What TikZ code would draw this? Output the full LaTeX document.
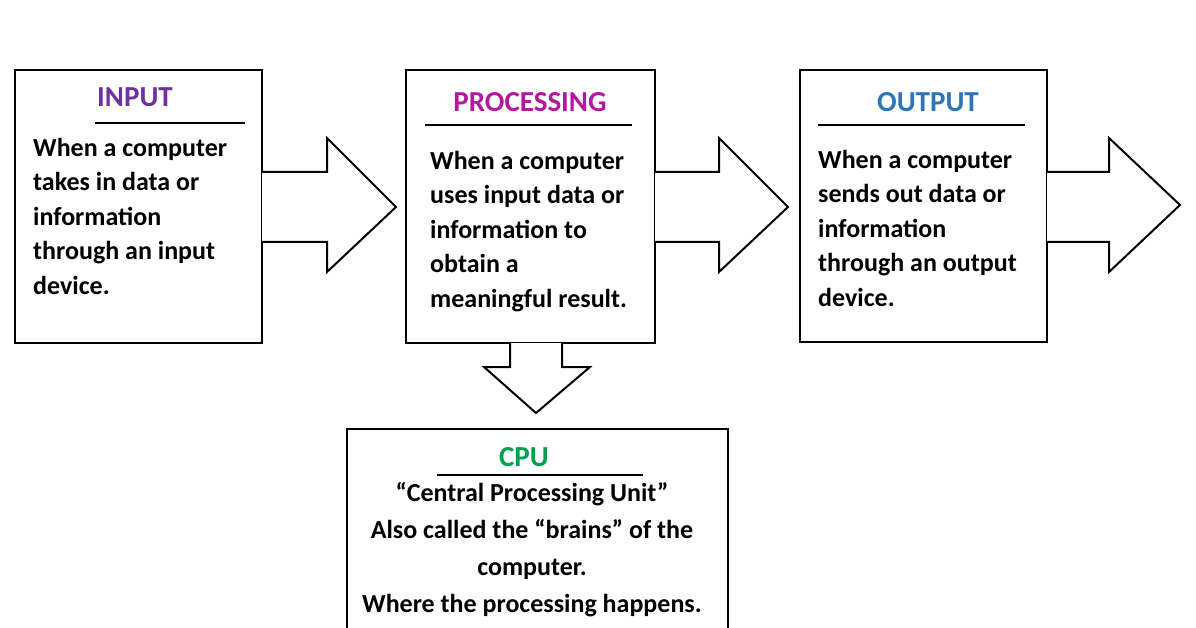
\documentclass[tikz,border=0pt]{standalone}
\usepackage{fontspec}
\setmainfont{Carlito}
\begin{document}
\begin{tikzpicture}[x=1pt,y=-1pt,
  box/.style={draw=black,line width=2.2pt},
  arr/.style={draw=black,line width=2pt,fill=white,line join=miter},
  ttl/.style={font=\fontsize{29}{32}\selectfont\bfseries},
  body/.style={font=\fontsize{26}{34.5}\selectfont\bfseries,align=left,anchor=north west,inner sep=0pt},
  ul/.style={line width=2pt}]
\useasboundingbox (0,0) rectangle (1196,628);
\definecolor{cin}{HTML}{7030A0}
\definecolor{cpr}{HTML}{B5179E}
\definecolor{cout}{HTML}{2E75B6}
\definecolor{ccpu}{HTML}{00A050}
% boxes
\draw[box] (15,70) rectangle (262,343);
\draw[box] (406,70) rectangle (655,343);
\draw[box] (800,70) rectangle (1047,342);
\draw[box] (347,429) rectangle (728,640);
% arrows
\draw[arr] (262,172) -- (327,172) -- (327,138) -- (396,207) -- (327,272) -- (327,242) -- (262,242);
\draw[arr] (655,172) -- (719,172) -- (719,138) -- (788,207) -- (719,272) -- (719,242) -- (655,242);
\draw[arr] (1047,172) -- (1109,172) -- (1109,138) -- (1180,205) -- (1109,272) -- (1109,242) -- (1047,242);
\draw[arr] (510,343) -- (510,367) -- (484,367) -- (536,413) -- (590,367) -- (562,367) -- (562,343);
% titles
\node[ttl,text=cin] (tin) at (135,97) {INPUT};
\draw[ul] (95,123) -- (245,123);
\node[ttl,text=cpr] (tpr) at (530,102) {PROCESSING};
\draw[ul] (425,125) -- (632,125);
\node[ttl,text=cout] (tout) at (928,102) {OUTPUT};
\draw[ul] (818,125) -- (1025,125);
\node[ttl,text=ccpu] (tcpu) at (524,457) {CPU};
\draw[ul] (437,475) -- (643,475);
% bodies
\node[body] (bin) at (33,138) {When a computer\\takes in data or\\information\\through an input\\device.};
\node[body] (bpr) at (430,151) {When a computer\\uses input data or\\information to\\obtain a\\meaningful result.};
\node[body] (bout) at (818,150) {When a computer\\sends out data or\\information\\through an output\\device.};
\node[body,align=center,anchor=north,font=\fontsize{26}{37}\selectfont\bfseries] (bcpu) at (532,482) {“Central Processing Unit”\\Also called the “brains” of the\\computer.\\Where the processing happens.};
\end{tikzpicture}
\end{document}
